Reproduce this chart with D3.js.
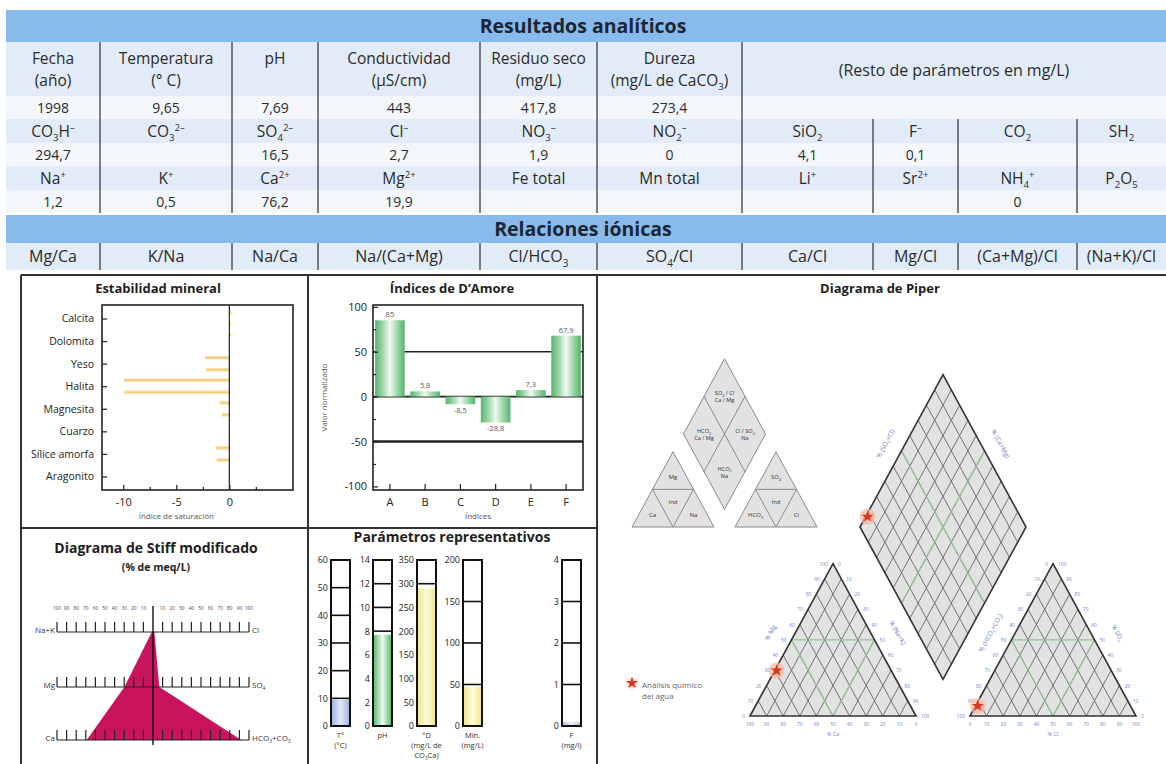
<!DOCTYPE html>
<html lang="es">
<head>
<meta charset="utf-8">
<title>Resultados analíticos</title>
<script src="https://cdn.jsdelivr.net/npm/d3@7/dist/d3.min.js"></script>
<style>
  html, body { margin: 0; padding: 0; background: #ffffff; }
  svg { display: block; }
  text { font-family: "Open Sans", "Noto Sans", "DejaVu Sans", sans-serif; }
</style>
</head>
<body>
<svg id="chart" width="1166" height="764"></svg>
<script>
// ---------------- data ----------------
const headerLabels = ["Fecha|(año)", "Temperatura|(° C)", "pH", "Conductividad|(µS/cm)", "Residuo seco|(mg/L)", "Dureza|(mg/L de CaCO_3)"];
const restLabel = "(Resto de parámetros en mg/L)";
const generalValues = ["1998", "9,65", "7,69", "443", "417,8", "273,4"];
const anionLabels = ["CO_3H^-", "CO_3^2-", "SO_4^2-", "Cl^-", "NO_3^-", "NO_2^-", "SiO_2", "F^-", "CO_2", "SH_2"];
const anionValues = ["294,7", "", "16,5", "2,7", "1,9", "0", "4,1", "0,1", "", ""];
const cationLabels = ["Na^+", "K^+", "Ca^2+", "Mg^2+", "Fe total", "Mn total", "Li^+", "Sr^2+", "NH_4^+", "P_2O_5"];
const cationValues = ["1,2", "0,5", "76,2", "19,9", "", "", "", "", "0", ""];
const ratioLabels = ["Mg/Ca", "K/Na", "Na/Ca", "Na/(Ca+Mg)", "Cl/HCO_3", "SO_4/Cl", "Ca/Cl", "Mg/Cl", "(Ca+Mg)/Cl", "(Na+K)/Cl"];

// saturation indices, two estimates per mineral
const minerals = ["Calcita", "Dolomita", "Yeso", "Halita", "Magnesita", "Cuarzo", "Sílice amorfa", "Aragonito"];
const saturationA = [0.2, 0.15, -2.3, -9.9, -0.9, 0.05, -1.3, 0.05];
const saturationB = [0.15, 0.1, -2.2, -9.9, -0.7, 0.05, -1.2, 0.05];
const saturationTicks = [-10, -5, 0];

// D'Amore indices
const amoreIndices = ["A", "B", "C", "D", "E", "F"];
const amoreValues = [85, 5.8, -8.5, -28.8, 7.3, 67.9];
const amoreLabels = ["85", "5,8", "-8,5", "-28,8", "7,3", "67,9"];
const amoreTicks = [100, 50, 0, -50, -100];

// ionic composition, % of meq/L
const stiffCations = ["Na+K", "Mg", "Ca"];
const stiffAnions = ["Cl", "SO_4", "HCO_3+CO_3"];
const cationPct = [1.2, 29.8, 69.0];   // Na+K, Mg, Ca
const anionPct = [1.4, 6.6, 92.0];     // Cl, SO4, HCO3+CO3
const stiffScale = [100, 90, 80, 70, 60, 50, 40, 30, 20, 10];

// representative parameters
const gaugeNames = [["T°", "(°C)"], ["pH"], ["°D", "(mg/L de", "CO_3Ca)"], ["Min.", "(mg/L)"], ["F", "(mg/l)"]];
const gaugeMax = [60, 14, 350, 200, 4];
const gaugeStep = [10, 2, 50, 50, 1];
const gaugeValues = [9.65, 7.69, 290, 47, 0.1];

// Piper key
const keyCation = ["Mg", "Ind", "Ca", "Na"];
const keyAnion = ["SO_4", "Ind", "HCO_3", "Cl"];
const keyDiamond = [["SO_4 / Cl", "Ca / Mg"], ["HCO_3", "Ca / Mg"], ["Cl / SO_4", "Na"], ["HCO_3", "Na"]];
const piperAxes = { catLeft: "% Mg", catRight: "% (Na+K)", catBottom: "% Ca",
                    anLeft: "% (HCO_3+CO_3)", anRight: "% SO_4", anBottom: "% Cl",
                    diaLeft: "% (SO_4+Cl)", diaRight: "% (Ca+Mg)" };
const legendText = ["Análisis químico", "del agua"];

// ---------------- helpers ----------------
const W = 1166, H = 764;
const svg = d3.select("#chart");
const defs = svg.append("defs");

function gradient(id, stops, vertical) {
  const g = defs.append("linearGradient").attr("id", id)
    .attr("x1", 0).attr("y1", 0).attr("x2", vertical ? 0 : 1).attr("y2", vertical ? 1 : 0);
  stops.forEach(([o, c]) => g.append("stop").attr("offset", o).attr("stop-color", c));
}
gradient("satBar", [[0, "#fff8e6"], [0.5, "#f3c872"], [1, "#fff5dc"]], true);
gradient("greenBar", [[0, "#55b56c"], [0.28, "#a5dab0"], [0.5, "#f1f9f2"], [0.72, "#a5dab0"], [1, "#55b56c"]], false);
gradient("blueBar", [[0, "#9dade2"], [0.5, "#e2e8f8"], [1, "#9dade2"]], false);
gradient("yellowBar", [[0, "#efe683"], [0.5, "#fdfbdc"], [1, "#efe683"]], false);
gradient("greyBar", [[0, "#b8c3d6"], [0.5, "#eef1f6"], [1, "#b8c3d6"]], false);

// '_' starts a subscript run of digits, '^' a superscript run of digits and signs
function rich(t, str, size) {
  const parts = [];
  let buf = "";
  for (let i = 0; i < str.length; i++) {
    const c = str[i];
    if (c === "_" || c === "^") {
      if (buf) { parts.push({ k: "n", t: buf }); buf = ""; }
      const re = c === "_" ? /[0-9]/ : /[0-9+\-]/;
      let run = "";
      while (i + 1 < str.length && re.test(str[i + 1])) run += str[++i];
      parts.push({ k: c === "_" ? "sub" : "sup", t: run.replace("-", "\u2013") });
    } else buf += c;
  }
  if (buf) parts.push({ k: "n", t: buf });
  let shift = 0;
  parts.forEach(p => {
    const target = p.k === "sub" ? size * 0.28 : p.k === "sup" ? -size * 0.38 : 0;
    t.append("tspan").attr("dy", (target - shift).toFixed(2))
      .attr("font-size", p.k === "n" ? size : size * 0.62).text(p.t);
    shift = target;
  });
  return t;
}
function label(g, x, y, str, size, o = {}) {
  const t = g.append("text").attr("x", x).attr("y", y)
    .attr("text-anchor", o.anchor || "middle")
    .attr("font-size", size)
    .attr("font-weight", o.weight || "normal")
    .attr("fill", o.fill || "#2b2b2b");
  if (o.transform) t.attr("transform", o.transform);
  return rich(t, str, size);
}

// ---------------- table ----------------
const table = svg.append("g");
const colX = [6, 100, 232, 318, 480, 597, 742, 873, 958, 1077, 1166];
const colMid = i => (colX[i] + colX[i + 1]) / 2;
const BAND = "#88bbec", ROW_A = "#e1ecf8", ROW_B = "#f3f7fc";
const rowBoxes = [[42, 96, ROW_A], [96, 119, ROW_B], [119, 143, ROW_A], [143, 166, ROW_B],
                  [166, 190, ROW_A], [190, 213, ROW_B], [243, 270, ROW_A]];
rowBoxes.forEach(([y0, y1, f]) => table.append("rect").attr("x", 6).attr("y", y0)
  .attr("width", W - 6).attr("height", y1 - y0).attr("fill", f));
[[10, 42, "Resultados analíticos"], [215, 243, "Relaciones iónicas"]].forEach(([y0, y1, s]) => {
  table.append("rect").attr("x", 6).attr("y", y0).attr("width", W - 6).attr("height", y1 - y0).attr("fill", BAND);
  label(table, 583, (y0 + y1) / 2 + 7, s, 19.5, { weight: "bold", fill: "#1c2633" });
});
const vline = (x, y0, y1) => table.append("line").attr("x1", x).attr("x2", x)
  .attr("y1", y0).attr("y2", y1).attr("stroke", "#4a4a4a").attr("stroke-width", 1.4);
colX.slice(1, 7).forEach(x => vline(x, 42, 213));
colX.slice(7, 10).forEach(x => vline(x, 119, 213));
colX.slice(1, 10).forEach(x => vline(x, 243, 270));

headerLabels.forEach((s, i) => {
  s.split("|").forEach((line, k) => label(table, colMid(i), 64 + k * 22, line, 15.5));
});
label(table, (colX[6] + colX[10]) / 2, 76, restLabel, 16);
const cellRow = (arr, yc, size) => arr.forEach((s, i) => { if (s) label(table, colMid(i), yc + size * 0.36, s, size); });
cellRow(generalValues, 107.5, 14);
cellRow(anionLabels, 131, 15.5);
cellRow(anionValues, 154.5, 14);
cellRow(cationLabels, 178, 15.5);
cellRow(cationValues, 201.5, 14);
cellRow(ratioLabels, 256.5, 16);

// ---------------- panel frames ----------------
const P = { top: 275, left: 21, mid1: 308, mid2: 597, split: 528 };
const frame = svg.append("g").attr("stroke", "#333").attr("stroke-width", 2);
frame.append("line").attr("x1", P.left).attr("x2", W).attr("y1", P.top).attr("y2", P.top);
[P.left, P.mid1, P.mid2].forEach(x => frame.append("line").attr("x1", x).attr("x2", x).attr("y1", P.top).attr("y2", H));
frame.append("line").attr("x1", P.left).attr("x2", P.mid2).attr("y1", P.split).attr("y2", P.split);

// ---------------- Estabilidad mineral ----------------
{
  const g = svg.append("g");
  const f = { x0: 102, x1: 293, y0: 305, y1: 490 };
  label(g, 158, 293, "Estabilidad mineral", 13, { weight: "bold", fill: "#1e1e1e" });
  const x = d3.scaleLinear().domain([-12, 6]).range([f.x0, f.x1]);
  const y = d3.scalePoint().domain(minerals).range([f.y0, f.y1]).padding(0.6);
  const barH = 4.5, off = 6;
  [[saturationA, -off], [saturationB, off]].forEach(([vals, dy]) => {
    g.selectAll(null).data(minerals).join("rect")
      .attr("x", (m, i) => x(Math.min(0, vals[i])))
      .attr("y", m => y(m) + dy - barH / 2)
      .attr("width", (m, i) => Math.abs(x(vals[i]) - x(0)))
      .attr("height", barH).attr("fill", "url(#satBar)");
  });
  g.append("line").attr("x1", x(0)).attr("x2", x(0)).attr("y1", f.y0).attr("y2", f.y1)
    .attr("stroke", "#222").attr("stroke-width", 1.2);
  g.append("rect").attr("x", f.x0).attr("y", f.y0).attr("width", f.x1 - f.x0).attr("height", f.y1 - f.y0)
    .attr("fill", "none").attr("stroke", "#222").attr("stroke-width", 1.6);
  const ax = g.append("g").attr("transform", `translate(0,${f.y1})`)
    .call(d3.axisBottom(x).tickValues(saturationTicks).tickSizeInner(-5).tickSizeOuter(0).tickPadding(8)
      .tickFormat(d => String(d)));
  const axMinor = g.append("g").attr("transform", `translate(0,${f.y1})`)
    .call(d3.axisBottom(x).tickValues([-7.5, -2.5, 2.5]).tickSizeInner(-3).tickSizeOuter(0).tickFormat(""));
  const ay = g.append("g").attr("transform", `translate(${f.x0},0)`)
    .call(d3.axisLeft(y).tickSizeInner(-5).tickSizeOuter(0).tickPadding(8));
  [ax, axMinor, ay].forEach(a => { a.select(".domain").remove(); a.selectAll("line").attr("stroke", "#222").attr("stroke-width", 1.2); });
  ax.selectAll("text").attr("font-size", 11).attr("fill", "#222");
  ay.selectAll("text").attr("font-size", 10.5).attr("fill", "#222").attr("font-family", "'Open Sans',sans-serif");
  label(g, x(-5), 519, "Índice de saturación", 8, { fill: "#555" });
}

// ---------------- Índices de D'Amore ----------------
{
  const g = svg.append("g");
  const f = { x0: 373, x1: 583, y0: 305, y1: 490 };
  label(g, 452, 293, "Índices de D\u2019Amore", 13, { weight: "bold", fill: "#1e1e1e" });
  const x = d3.scaleBand().domain(amoreIndices).range([f.x0, f.x1]).paddingInner(0.16).paddingOuter(0.06);
  const y = d3.scaleLinear().domain([-104, 102]).range([f.y1, f.y0]);
  [50, 0].forEach(v => g.append("line").attr("x1", f.x0).attr("x2", f.x1).attr("y1", y(v)).attr("y2", y(v))
    .attr("stroke", "#222").attr("stroke-width", 1.6));
  g.append("line").attr("x1", f.x0).attr("x2", f.x1).attr("y1", y(-50)).attr("y2", y(-50))
    .attr("stroke", "#222").attr("stroke-width", 2.4);
  g.selectAll(null).data(amoreIndices).join("rect")
    .attr("x", d => x(d))
    .attr("y", (d, i) => y(Math.max(0, amoreValues[i])))
    .attr("width", x.bandwidth())
    .attr("height", (d, i) => Math.abs(y(amoreValues[i]) - y(0)))
    .attr("fill", "url(#greenBar)");
  g.selectAll(null).data(amoreIndices).join("text")
    .attr("x", d => x(d) + x.bandwidth() / 2)
    .attr("y", (d, i) => amoreValues[i] >= 0 ? y(amoreValues[i]) - 3 : y(amoreValues[i]) + 9)
    .attr("text-anchor", "middle").attr("font-size", 7.5).attr("fill", "#555")
    .text((d, i) => amoreLabels[i]);
  g.append("rect").attr("x", f.x0).attr("y", f.y0).attr("width", f.x1 - f.x0).attr("height", f.y1 - f.y0)
    .attr("fill", "none").attr("stroke", "#222").attr("stroke-width", 1.6);
  const ay = g.append("g").attr("transform", `translate(${f.x0},0)`)
    .call(d3.axisLeft(y).tickValues(amoreTicks).tickSizeInner(-5).tickSizeOuter(0).tickPadding(6)
      .tickFormat(d => String(d)));
  const ayMinor = g.append("g").attr("transform", `translate(${f.x0},0)`)
    .call(d3.axisLeft(y).tickValues([75, 25, -25, -75]).tickSizeInner(-3).tickSizeOuter(0).tickFormat(""));
  const ax = g.append("g").attr("transform", `translate(0,${f.y1})`)
    .call(d3.axisBottom(x).tickSizeInner(-6).tickSizeOuter(0).tickPadding(8));
  [ay, ayMinor, ax].forEach(a => { a.select(".domain").remove(); a.selectAll("line").attr("stroke", "#222").attr("stroke-width", 1.2); });
  ay.selectAll("text").attr("font-size", 11).attr("fill", "#222");
  ax.selectAll("text").attr("font-size", 11).attr("fill", "#222");
  label(g, 327, (f.y0 + f.y1) / 2, "Valor normalizado", 8, { fill: "#555", transform: `rotate(-90,327,${(f.y0 + f.y1) / 2})` });
  label(g, (f.x0 + f.x1) / 2, 519, "Índices", 8, { fill: "#555" });
}

// ---------------- Diagrama de Stiff modificado ----------------
{
  const g = svg.append("g");
  label(g, 156, 553, "Diagrama de Stiff modificado", 14, { weight: "bold", fill: "#1e1e1e" });
  label(g, 156, 571, "(% de meq/L)", 10.5, { weight: "bold", fill: "#1e1e1e" });
  const cx = 153, half = 96;
  const rowsY = [632, 687, 740];
  const xl = d3.scaleLinear().domain([0, 100]).range([cx, cx - half]);
  const xr = d3.scaleLinear().domain([0, 100]).range([cx, cx + half]);
  const poly = cationPct.map((v, i) => [xl(v), rowsY[i]])
    .concat(anionPct.map((v, i) => [xr(v), rowsY[i]]).reverse());
  g.append("path").attr("d", d3.line()(poly) + "Z").attr("fill", "#c8145c");
  const ticks = d3.range(10, 101, 10);
  rowsY.forEach((ry, r) => {
    const s = g.append("g").attr("stroke", "#222").attr("stroke-width", 1.2);
    [xl, xr].forEach(sc => {
      s.append("line").attr("x1", sc(0)).attr("x2", sc(100)).attr("y1", ry).attr("y2", ry);
      ticks.forEach(t => s.append("line").attr("x1", sc(t)).attr("x2", sc(t)).attr("y1", ry).attr("y2", ry - 10));
    });
    label(g, xl(100) - 2, ry + 1, stiffCations[r], 8, { anchor: "end", fill: "#333" });
    label(g, xr(100) + 3, ry + 1, stiffAnions[r], 8, { anchor: "start", fill: "#333" });
  });
  stiffScale.forEach(v => {
    label(g, xl(v), 610, String(v), 4.8, { fill: "#444" });
    label(g, xr(v), 610, String(v), 4.8, { fill: "#444" });
  });
  g.append("line").attr("x1", cx).attr("x2", cx).attr("y1", 606).attr("y2", 745)
    .attr("stroke", "#111").attr("stroke-width", 1.4);
}

// ---------------- Parámetros representativos ----------------
{
  const g = svg.append("g");
  label(g, 452, 542, "Parámetros representativos", 14, { weight: "bold", fill: "#1e1e1e" });
  const gx = [331, 373, 417, 463, 562];
  const gw = 19, top = 560, bot = 726;
  const fills = ["url(#blueBar)", "url(#greenBar)", "url(#yellowBar)", "url(#yellowBar)", "url(#greyBar)"];
  gaugeMax.forEach((mx, i) => {
    const y = d3.scaleLinear().domain([0, mx]).range([bot, top]);
    const ticks = d3.range(0, mx + 1e-9, gaugeStep[i]);
    g.selectAll(null).data(ticks.slice(1, -1)).join("line")
      .attr("x1", gx[i]).attr("x2", gx[i] + gw).attr("y1", d => y(d)).attr("y2", d => y(d))
      .attr("stroke", "#111").attr("stroke-width", 1.6);
    g.append("rect").attr("x", gx[i]).attr("y", y(gaugeValues[i])).attr("width", gw)
      .attr("height", bot - y(gaugeValues[i])).attr("fill", fills[i]);
    g.append("rect").attr("x", gx[i]).attr("y", top).attr("width", gw).attr("height", bot - top)
      .attr("fill", "none").attr("stroke", "#111").attr("stroke-width", 2);
    const a = g.append("g").attr("transform", `translate(${gx[i]},0)`)
      .call(d3.axisLeft(y).tickValues(ticks).tickSize(0).tickPadding(3).tickFormat(d => String(d)));
    a.select(".domain").remove();
    a.selectAll("text").attr("font-size", 9).attr("fill", "#222");
    gaugeNames[i].forEach((s, k) => label(g, gx[i] + gw / 2, 738 + k * 10, s, 7.5, { fill: "#333" }));
  });
}

// ---------------- Diagrama de Piper ----------------
{
  const g = svg.append("g");
  label(g, 880, 293, "Diagrama de Piper", 13, { weight: "bold", fill: "#1e1e1e" });
  const K = 1.06;                   // vertical stretch of the ternary plots
  const lerp = (a, b, t) => [a[0] + (b[0] - a[0]) * t, a[1] + (b[1] - a[1]) * t];
  const add = (a, v, t) => [a[0] + v[0] * t, a[1] + v[1] * t];
  const sub = (a, b) => [a[0] - b[0], a[1] - b[1]];
  const poly = pts => d3.line()(pts) + "Z";

  function triangle(ax, ay, s) {
    const h = s * Math.sqrt(3) / 2 * K;
    return { A: [ax, ay], B: [ax + s, ay], C: [ax + s / 2, ay - h], s, h };
  }
  function diamond(cx, cy, s) {
    const h = s * Math.sqrt(3) / 2 * K;
    return { L: [cx - s / 2, cy], T: [cx, cy - h], R: [cx + s / 2, cy], B: [cx, cy + h], s, h };
  }

  // ---- key diagram ----
  const kg = g.append("g");
  const kL = triangle(632, 527, 82), kR = triangle(735, 527, 82), kD = diamond(724.5, 434, 82);
  const keyStyle = sel => sel.attr("fill", "#e2e2e2").attr("stroke", "#8a8a8a").attr("stroke-width", 1);
  [kL, kR].forEach((t, j) => {
    keyStyle(kg.append("path").attr("d", poly([t.A, t.B, t.C])));
    const mAB = lerp(t.A, t.B, 0.5), mAC = lerp(t.A, t.C, 0.5), mBC = lerp(t.B, t.C, 0.5);
    kg.append("path").attr("d", poly([mAB, mAC, mBC])).attr("fill", "none").attr("stroke", "#8a8a8a");
    const names = j === 0 ? keyCation : keyAnion;
    const cent = pts => [d3.mean(pts, p => p[0]), d3.mean(pts, p => p[1])];
    [cent([t.C, mAC, mBC]), cent([mAB, mAC, mBC]), cent([t.A, mAB, mAC]), cent([t.B, mAB, mBC])]
      .forEach((c, k) => label(kg, c[0], c[1] + 2.5, names[k], 6, { fill: "#333" }));
  });
  keyStyle(kg.append("path").attr("d", poly([kD.L, kD.T, kD.R, kD.B])));
  const kc = [kD.T[0], kD.L[1]];
  kg.append("line").attr("x1", lerp(kD.L, kD.T, 0.5)[0]).attr("y1", lerp(kD.L, kD.T, 0.5)[1])
    .attr("x2", lerp(kD.B, kD.R, 0.5)[0]).attr("y2", lerp(kD.B, kD.R, 0.5)[1]).attr("stroke", "#8a8a8a");
  kg.append("line").attr("x1", lerp(kD.L, kD.B, 0.5)[0]).attr("y1", lerp(kD.L, kD.B, 0.5)[1])
    .attr("x2", lerp(kD.T, kD.R, 0.5)[0]).attr("y2", lerp(kD.T, kD.R, 0.5)[1]).attr("stroke", "#8a8a8a");
  [lerp(kD.T, kc, 0.5), lerp(kD.L, kc, 0.5), lerp(kD.R, kc, 0.5), lerp(kD.B, kc, 0.5)].forEach((c, k) => {
    keyDiamond[k].forEach((s, m) => label(kg, c[0], c[1] - 1 + m * 7, s, 5.6, { fill: "#333" }));
  });

  // ---- main diagram ----
  const S = 166;
  const cat = triangle(750, 716, S), an = triangle(970, 716, S), dia = diamond(943, 527, S);
  const frac = d3.scaleLinear().domain([0, 100]).range([0, 1]);
  const gridT = d3.range(10, 100, 10).map(frac);
  const fillC = "#e2e2e2", gridC = "#666", greenC = "#93c493", blueC = "#6f82c8";

  function drawTri(t) {
    g.append("path").attr("d", poly([t.A, t.B, t.C])).attr("fill", fillC);
    const gg = g.append("g").attr("stroke", gridC).attr("stroke-width", 0.9);
    gridT.forEach(u => {
      const p = lerp(t.A, t.B, u);
      const e1 = add(p, sub(t.C, t.A), 1 - u), e2 = add(p, sub(t.C, t.B), u);
      gg.append("line").attr("x1", p[0]).attr("y1", p[1]).attr("x2", e1[0]).attr("y2", e1[1]);
      gg.append("line").attr("x1", p[0]).attr("y1", p[1]).attr("x2", e2[0]).attr("y2", e2[1]);
    });
    const mAB = lerp(t.A, t.B, 0.5), mAC = lerp(t.A, t.C, 0.5), mBC = lerp(t.B, t.C, 0.5);
    g.append("path").attr("d", poly([mAB, mAC, mBC])).attr("fill", "none").attr("stroke", greenC).attr("stroke-width", 1.3);
    g.append("path").attr("d", poly([t.A, t.B, t.C])).attr("fill", "none").attr("stroke", "#333").attr("stroke-width", 1.6);
  }
  function drawDia(d) {
    g.append("path").attr("d", poly([d.L, d.T, d.R, d.B])).attr("fill", fillC);
    const gg = g.append("g").attr("stroke", gridC).attr("stroke-width", 0.9);
    gridT.forEach(u => {
      const p = lerp(d.L, d.B, u), e = add(p, sub(d.T, d.L), 1);
      const q = lerp(d.L, d.T, u), f = add(q, sub(d.B, d.L), 1);
      gg.append("line").attr("x1", p[0]).attr("y1", p[1]).attr("x2", e[0]).attr("y2", e[1]);
      gg.append("line").attr("x1", q[0]).attr("y1", q[1]).attr("x2", f[0]).attr("y2", f[1]);
    });
    const gl = g.append("g").attr("stroke", greenC).attr("stroke-width", 1.3);
    [[lerp(d.L, d.B, 0.5), lerp(d.T, d.R, 0.5)], [lerp(d.L, d.T, 0.5), lerp(d.B, d.R, 0.5)]].forEach(([a, b]) =>
      gl.append("line").attr("x1", a[0]).attr("y1", a[1]).attr("x2", b[0]).attr("y2", b[1]));
    g.append("path").attr("d", poly([d.L, d.T, d.R, d.B])).attr("fill", "none").attr("stroke", "#333").attr("stroke-width", 1.6);
  }
  drawTri(cat); drawTri(an); drawDia(dia);

  // tick numbers around the triangles
  const tickVals = d3.range(0, 101, 10);
  function edgeNumbers(a, b, vals, dx, dy, anchor) {
    vals.forEach((v, k) => {
      const p = lerp(a, b, k / 10);
      label(g, p[0] + dx, p[1] + dy, String(v), 4.8, { fill: blueC, anchor });
    });
  }
  edgeNumbers(cat.A, cat.C, tickVals, -5, 2, "end");
  edgeNumbers(cat.A, cat.B, tickVals.slice().reverse(), 0, 10, "middle");
  edgeNumbers(cat.B, cat.C, tickVals.slice().reverse(), 5, 2, "start");
  edgeNumbers(an.A, an.C, tickVals.slice().reverse(), -5, 2, "end");
  edgeNumbers(an.A, an.B, tickVals, 0, 10, "middle");
  edgeNumbers(an.B, an.C, tickVals, 5, 2, "start");

  const ang = Math.atan2(cat.h, S / 2) * 180 / Math.PI;
  function sideLabel(a, b, str, nx, ny, rot) {
    const m = lerp(a, b, 0.5), x = m[0] + nx, y = m[1] + ny;
    label(g, x, y, str, 6.5, { fill: blueC, transform: `rotate(${rot},${x},${y})` });
  }
  sideLabel(cat.A, cat.C, piperAxes.catLeft, -19, -6, -ang);
  sideLabel(cat.B, cat.C, piperAxes.catRight, 21, -6, ang);
  label(g, (cat.A[0] + cat.B[0]) / 2, cat.A[1] + 20, piperAxes.catBottom, 5.5, { fill: blueC });
  sideLabel(an.A, an.C, piperAxes.anLeft, -19, -6, -ang);
  sideLabel(an.B, an.C, piperAxes.anRight, 21, -6, ang);
  label(g, (an.A[0] + an.B[0]) / 2, an.A[1] + 20, piperAxes.anBottom, 5.5, { fill: blueC });
  sideLabel(dia.L, dia.T, piperAxes.diaLeft, -14, -6, -ang);
  sideLabel(dia.T, dia.R, piperAxes.diaRight, 14, -6, ang);

  // sample projected into the three fields
  const mg = frac(cationPct[1]), nak = frac(cationPct[0]);
  const so4 = frac(anionPct[1]), cl = frac(anionPct[0]);
  const pCat = add(add(cat.A, sub(cat.B, cat.A), nak), sub(cat.C, cat.A), mg);
  const pAn = add(add(an.A, sub(an.B, an.A), cl), sub(an.C, an.A), so4);
  const pDia = add(add(dia.L, sub(dia.T, dia.L), frac(anionPct[0] + anionPct[1])), sub(dia.B, dia.L), nak);
  const star = d3.symbol(d3.symbolStar, 46);
  function marker(p) {
    g.append("circle").attr("cx", p[0]).attr("cy", p[1]).attr("r", 8).attr("fill", "#f7b99c").attr("opacity", 0.7);
    g.append("path").attr("d", star()).attr("transform", `translate(${p[0]},${p[1]})`).attr("fill", "#d9351f");
  }
  [pCat, pAn, pDia].forEach(marker);

  // legend
  g.append("circle").attr("cx", 632).attr("cy", 683).attr("r", 6).attr("fill", "#fbd5c8").attr("opacity", 0.7);
  g.append("path").attr("d", star()).attr("transform", "translate(632,683)").attr("fill", "#d9351f");
  legendText.forEach((s, k) => label(g, 642, 688 + k * 11, s, 8, { anchor: "start", fill: "#666" }));
}
</script>
</body>
</html>
